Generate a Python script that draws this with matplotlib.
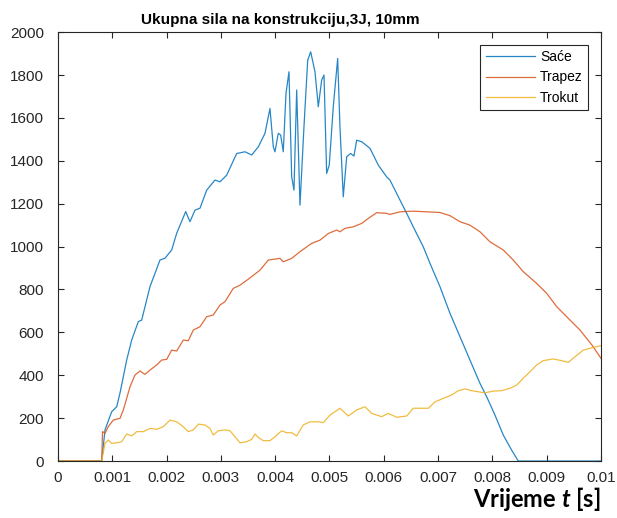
import numpy as np
import matplotlib
matplotlib.use("Agg")
import matplotlib.pyplot as plt

# vrijeme [s] i sila [N] ocitano s grafa
t_sace = [0, 0.000805, 0.000866, 0.000989, 0.001081, 0.001142, 0.001265, 0.001357,
          0.001479, 0.001541, 0.001694, 0.001878, 0.001971, 0.002094, 0.002186,
          0.002352, 0.002431, 0.002523, 0.002615, 0.002738, 0.002891, 0.002983,
          0.003107, 0.003291, 0.003444, 0.003567, 0.003689, 0.003812, 0.003904,
          0.003965, 0.003996, 0.004057, 0.004101, 0.004149, 0.004199, 0.004254,
          0.004304, 0.004346, 0.004396, 0.004457, 0.004530, 0.004599, 0.004654,
          0.004733, 0.004794, 0.004856, 0.004899, 0.004948, 0.004996, 0.005070,
          0.005151, 0.005193, 0.005254, 0.005317, 0.005390, 0.005451, 0.005501,
          0.005593, 0.005746, 0.005899, 0.006053, 0.006114, 0.006298, 0.006422,
          0.006543, 0.006727, 0.006851, 0.007035, 0.007219, 0.007403, 0.007587,
          0.007772, 0.007895, 0.008048, 0.008201, 0.008355, 0.008477, 0.01]
f_sace = [0, 0, 145, 230, 253, 317, 471, 564,
          650, 657, 813, 937, 946, 984, 1062,
          1163, 1116, 1170, 1179, 1263, 1310, 1302,
          1333, 1434, 1442, 1427, 1465, 1528, 1644,
          1465, 1442, 1528, 1520, 1442, 1714, 1815,
          1325, 1263, 1730, 1193, 1558, 1869, 1908,
          1815, 1652, 1776, 1800, 1341, 1380, 1652,
          1877, 1558, 1232, 1419, 1434, 1422, 1496,
          1489, 1458, 1380, 1325, 1310, 1217, 1155,
          1092, 999, 922, 813, 689, 580, 471,
          362, 300, 214, 121, 51, 0, 0]

t_trapez = [0, 0.000805, 0.00082, 0.000866, 0.000926, 0.001018, 0.001142, 0.001203,
            0.001326, 0.001418, 0.001510, 0.001602, 0.001694, 0.001818, 0.001910,
            0.002002, 0.002094, 0.002186, 0.002308, 0.002400, 0.002492, 0.002615,
            0.002738, 0.002860, 0.002983, 0.003076, 0.003228, 0.003352, 0.003505,
            0.003720, 0.003873, 0.004088, 0.004149, 0.004304, 0.004457, 0.004672,
            0.004825, 0.004978, 0.005133, 0.005193, 0.005285, 0.005438, 0.005593,
            0.005714, 0.005869, 0.006053, 0.006114, 0.006298, 0.006543, 0.006790,
            0.007035, 0.007219, 0.007403, 0.007587, 0.007772, 0.007956, 0.008201,
            0.008385, 0.008569, 0.008816, 0.009000, 0.009184, 0.009368, 0.009613,
            0.009858, 0.01]
f_trapez = [0, 0, 137, 130, 160, 191, 199, 238,
            346, 401, 420, 404, 424, 448, 471,
            474, 517, 513, 564, 561, 611, 626,
            673, 681, 727, 743, 805, 820, 848,
            890, 937, 945, 929, 945, 976, 1015,
            1030, 1061, 1077, 1069, 1085, 1092, 1108,
            1131, 1158, 1155, 1150, 1162, 1165, 1162,
            1159, 1144, 1116, 1100, 1069, 1022, 984,
            937, 883, 828, 782, 720, 673, 611,
            533, 479]

t_trokut = [0, 0.000805, 0.000866, 0.000926, 0.000989, 0.001081, 0.001173, 0.001265,
            0.001357, 0.001449, 0.001571, 0.001694, 0.001818, 0.001939, 0.002063,
            0.002186, 0.002308, 0.002400, 0.002492, 0.002584, 0.002707, 0.002799,
            0.002860, 0.002952, 0.003076, 0.003168, 0.003260, 0.003352, 0.003475,
            0.003567, 0.003628, 0.003689, 0.003781, 0.003904, 0.003996, 0.004120,
            0.004212, 0.004304, 0.004396, 0.004517, 0.004641, 0.004794, 0.004886,
            0.005009, 0.005101, 0.005193, 0.005346, 0.005501, 0.005654, 0.005777,
            0.005961, 0.006083, 0.006238, 0.006422, 0.006543, 0.006698, 0.006820,
            0.006943, 0.007096, 0.007250, 0.007372, 0.007495, 0.007619, 0.007740,
            0.007864, 0.008017, 0.008171, 0.008324, 0.008447, 0.008569, 0.008692,
            0.008816, 0.008937, 0.009116, 0.009276, 0.009398, 0.009521, 0.009674,
            0.009829, 0.01]
f_trokut = [0, 0, 82, 98, 82, 85, 90, 126,
            117, 137, 137, 152, 148, 160, 191,
            183, 160, 137, 145, 172, 168, 152,
            121, 141, 145, 141, 113, 85, 90,
            101, 126, 110, 95, 95, 113, 141,
            132, 132, 117, 168, 183, 183, 179,
            214, 230, 246, 210, 238, 253, 222,
            207, 222, 204, 210, 246, 246, 246,
            276, 292, 308, 328, 336, 328, 323,
            318, 326, 328, 339, 354, 386, 416,
            448, 468, 476, 468, 460, 486, 517,
            528, 538]

labels = ["Saće", "Trapez", "Trokut"]
x_ticks = [0, 0.001, 0.002, 0.003, 0.004, 0.005, 0.006, 0.007, 0.008, 0.009, 0.01]
x_ticklabels = ["0", "0.001", "0.002", "0.003", "0.004", "0.005", "0.006",
                "0.007", "0.008", "0.009", "0.01"]
y_ticks = list(range(0, 2001, 200))

plt.rcParams['font.family'] = ['Liberation Sans', 'DejaVu Sans']
plt.rcParams['mathtext.fontset'] = 'custom'
plt.rcParams['mathtext.it'] = 'Lato:italic:bold'
plt.rcParams['mathtext.rm'] = 'Lato:bold'

ink = '#262626'

fig = plt.figure(figsize=(6.17, 5.18), dpi=100)
ax = fig.add_axes([0.094, 0.110, 0.880, 0.828])

ax.plot(t_sace, f_sace, color='#0072BD', lw=0.9, alpha=0.85, label=labels[0])
ax.plot(t_trapez, f_trapez, color='#D95319', lw=0.9, alpha=0.85, label=labels[1])
ax.plot(t_trokut, f_trokut, color='#EDB120', lw=0.9, alpha=0.85, label=labels[2])

ax.set_xlim(0, 0.01)
ax.set_ylim(0, 2000)
ax.set_xticks(x_ticks)
ax.set_xticklabels(x_ticklabels)
ax.set_yticks(y_ticks)
ax.tick_params(direction='in', top=True, right=True, length=4, width=0.8,
               colors=ink, labelsize=11)
ax.tick_params(axis='y', pad=10)
ax.tick_params(axis='x', pad=7)
for s in ax.spines.values():
    s.set_color(ink)
    s.set_linewidth(0.8)

ax.set_title("Ukupna sila na konstrukciju,3J, 10mm", fontsize=11,
             fontweight='bold', color='black', pad=6, x=0.409)
ax.set_xlabel("Vrijeme $t$ [s]", loc='right', fontsize=17, family='Lato',
              fontweight='bold', color='black', labelpad=0)

leg = ax.legend(loc='upper right', fontsize=10, fancybox=False, framealpha=1,
                edgecolor=ink, handlelength=3.5, borderaxespad=0.9,
                labelspacing=0.45, handletextpad=0.4, borderpad=0.4)
leg.get_frame().set_linewidth(0.8)

fig.savefig("out.png", dpi=100)
